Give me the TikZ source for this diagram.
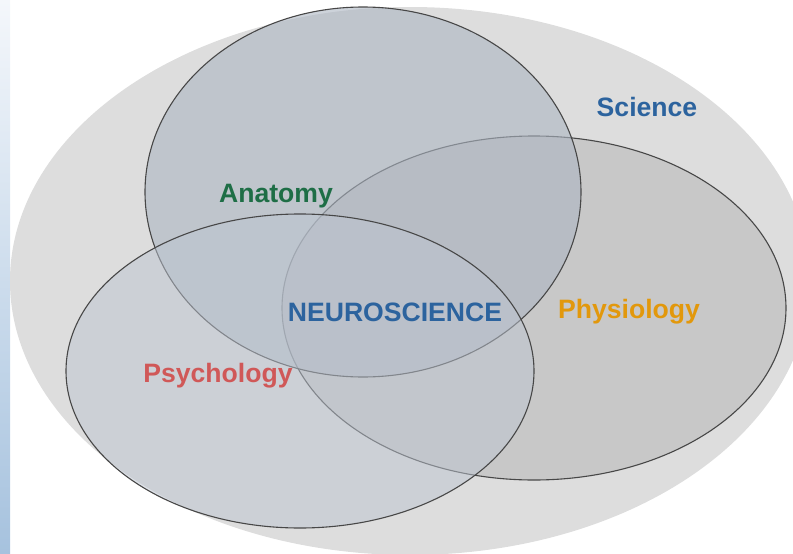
\documentclass[tikz,border=0pt]{standalone}
\usepackage{fontspec}
\setmainfont{Liberation Sans}
\usetikzlibrary{calc}

\definecolor{stripTop}{RGB}{244,247,251}
\definecolor{stripBot}{RGB}{166,194,222}
\definecolor{scienceGray}{RGB}{221,221,221}
\definecolor{physioFill}{RGB}{200,200,200}
\definecolor{anatFill}{RGB}{172,181,194}
\definecolor{psychFill}{RGB}{189,197,209}
\definecolor{blueText}{RGB}{44,99,158}
\definecolor{greenText}{RGB}{30,110,70}
\definecolor{orangeText}{RGB}{226,152,12}
\definecolor{redText}{RGB}{208,88,88}

\tikzset{
	venn/.style={draw=black!72, line width=1.1pt},
	lbl/.style={font=\fontsize{26.6}{30}\selectfont\bfseries, anchor=base, inner sep=0pt}
}

\begin{document}
\begin{tikzpicture}[x=1pt, y=-1pt]
			%%%%% START %%%%%
			\useasboundingbox (0, 0) rectangle (793, 554);
			\clip (0, 0) rectangle (793, 554);
			
			\shade[top color=stripTop, bottom color=stripBot] (0, 0) rectangle (10, 554);
			
			\fill[scienceGray] (410, 281) ellipse [x radius=400, y radius=274];
			
			\draw[venn, fill=physioFill] (534, 308) ellipse [x radius=252, y radius=172];
			\draw[venn, fill=anatFill, fill opacity=0.6] (363, 192) ellipse [x radius=218, y radius=185];
			\draw[venn, fill=psychFill, fill opacity=0.5] (300, 371) ellipse [x radius=234, y radius=157];
			
			\node[lbl, text=blueText] (science) at (647, 116) {Science};
			\node[lbl, text=greenText] (anatomy) at (276, 202) {Anatomy};
			\node[lbl, text=blueText] (neuro) at (395, 321) {NEUROSCIENCE};
			\node[lbl, text=orangeText] (physiology) at (629, 318) {Physiology};
			\node[lbl, text=redText] (psychology) at (218, 382) {Psychology};
			%%%%% END %%%%%
\end{tikzpicture}
\end{document}
